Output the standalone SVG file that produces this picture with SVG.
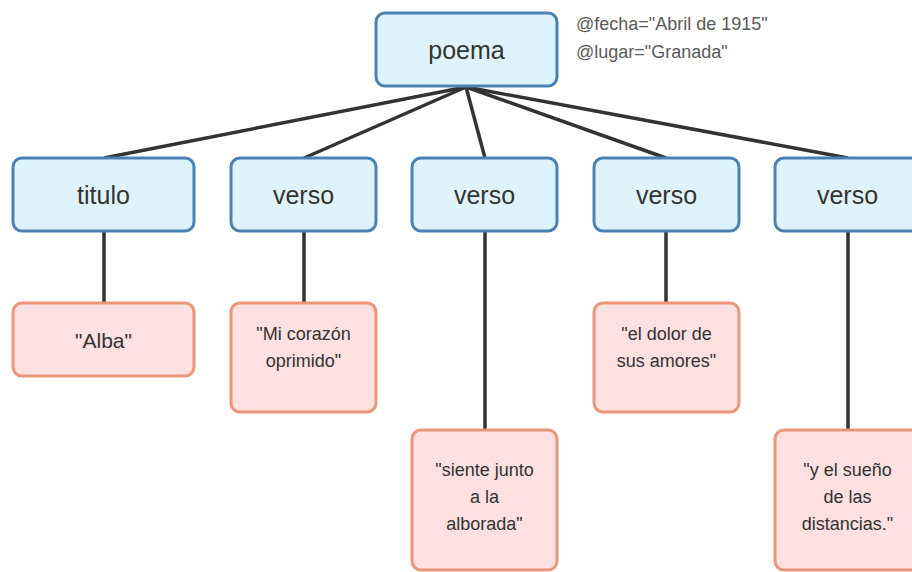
<svg xmlns="http://www.w3.org/2000/svg" width="912" height="572" viewBox="0 0 912 572">
<style>
.el rect{fill:#dff3fc;stroke:#4a82b6;stroke-width:3}
.tx rect{fill:#fde0e0;stroke:#eb9679;stroke-width:3}
.el text{font-family:"Liberation Sans",Arial,sans-serif;font-size:25px;fill:#333;text-anchor:middle}
.tx text{font-family:"Liberation Sans",Arial,sans-serif;font-size:18px;fill:#333;text-anchor:middle}
#connectors line{stroke:#333;stroke-width:3.5;stroke-linecap:butt}
</style>
<rect width="912" height="572" fill="#fff"/>
<g id="connectors">
<line x1="466" y1="87" x2="104" y2="158"/>
<line x1="466" y1="87" x2="304" y2="158"/>
<line x1="466" y1="87" x2="485" y2="158"/>
<line x1="466" y1="87" x2="666" y2="158"/>
<line x1="466" y1="87" x2="848" y2="158"/>
<line x1="104" y1="231" x2="104" y2="303"/>
<line x1="304" y1="231" x2="304" y2="303"/>
<line x1="485" y1="231" x2="485" y2="430"/>
<line x1="666" y1="231" x2="666" y2="303"/>
<line x1="848" y1="231" x2="848" y2="430"/>
</g>
<g id="poema" class="el">
<rect x="376" y="13" width="181" height="73" rx="9"/>
<text x="466.5" y="58.5">poema</text>
<text x="576" y="30" style="text-anchor:start;font-size:18px;fill:#5a5a5a">@fecha="Abril de 1915"</text>
<text x="576" y="58" style="text-anchor:start;font-size:18px;fill:#5a5a5a">@lugar="Granada"</text>
</g>
<g id="titulo" class="el">
<rect x="13" y="158" width="181" height="73" rx="9"/>
<text x="103.5" y="204">titulo</text>
</g>
<g id="verso1" class="el">
<rect x="231" y="158" width="145" height="73" rx="9"/>
<text x="303.5" y="204">verso</text>
</g>
<g id="verso2" class="el">
<rect x="412" y="158" width="145" height="73" rx="9"/>
<text x="484.5" y="204">verso</text>
</g>
<g id="verso3" class="el">
<rect x="594" y="158" width="145" height="73" rx="9"/>
<text x="666.5" y="204">verso</text>
</g>
<g id="verso4" class="el">
<rect x="775" y="158" width="145" height="73" rx="9"/>
<text x="847.5" y="204">verso</text>
</g>
<g id="alba" class="tx">
<rect x="13" y="303" width="181" height="73" rx="9"/>
<text x="103.5" y="348" style="font-size:21px">"Alba"</text>
</g>
<g id="texto1" class="tx">
<rect x="231" y="303" width="145" height="109" rx="9"/>
<text x="303.5" y="340">"Mi corazón</text>
<text x="303.5" y="367">oprimido"</text>
</g>
<g id="texto2" class="tx">
<rect x="412" y="430" width="145" height="140" rx="9"/>
<text x="484.5" y="476">"siente junto</text>
<text x="484.5" y="503">a la</text>
<text x="484.5" y="530">alborada"</text>
</g>
<g id="texto3" class="tx">
<rect x="594" y="303" width="145" height="109" rx="9"/>
<text x="666.5" y="340">"el dolor de</text>
<text x="666.5" y="367">sus amores"</text>
</g>
<g id="texto4" class="tx">
<rect x="775" y="430" width="145" height="140" rx="9"/>
<text x="847.5" y="476">"y el sueño</text>
<text x="847.5" y="503">de las</text>
<text x="847.5" y="530">distancias."</text>
</g>
</svg>
